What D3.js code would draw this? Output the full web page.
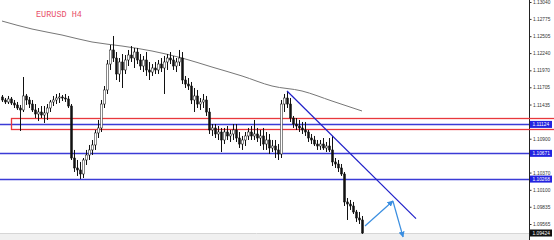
<!DOCTYPE html>
<html>
<head>
<meta charset="utf-8">
<script src="https://cdn.jsdelivr.net/npm/d3@7"></script>
<style>
  body { margin: 0; background: #fff; }
  svg { display: block; }
</style>
</head>
<body>
<div id="main"></div>
<script>
// ---- data ----
var title = "EURUSD H4";

// candles, one row per bar: [open, high, low, close]
var candles = [
  [1.11553,1.11584,1.11475,1.11506],[1.11506,1.11537,1.11443,1.11475],[1.11475,1.11569,1.11443,1.11522],
  [1.11522,1.11553,1.11428,1.11459],[1.11459,1.11506,1.11381,1.11428],[1.11428,1.11475,1.11350,1.11381],
  [1.11381,1.11428,1.11021,1.11350],[1.11350,1.11866,1.11318,1.11569],[1.11569,1.11600,1.11428,1.11506],
  [1.11506,1.11553,1.11381,1.11443],[1.11443,1.11506,1.11318,1.11350],[1.11350,1.11443,1.11224,1.11287],
  [1.11287,1.11381,1.11177,1.11318],[1.11318,1.11412,1.11224,1.11271],[1.11271,1.11412,1.11146,1.11303],
  [1.11303,1.11443,1.11193,1.11381],[1.11381,1.11506,1.11318,1.11475],[1.11475,1.11569,1.11412,1.11506],
  [1.11506,1.11600,1.11443,1.11537],[1.11537,1.11616,1.11459,1.11553],[1.11553,1.11584,1.11490,1.11537],
  [1.11537,1.11600,1.11475,1.11522],[1.11522,1.11569,1.11381,1.11412],[1.11412,1.11443,1.10567,1.10598],
  [1.10598,1.10724,1.10379,1.10442],[1.10442,1.10567,1.10317,1.10411],[1.10411,1.10536,1.10270,1.10348],
  [1.10348,1.10598,1.10285,1.10567],[1.10567,1.10724,1.10489,1.10645],[1.10645,1.10802,1.10567,1.10724],
  [1.10724,1.10880,1.10645,1.10802],[1.10802,1.11037,1.10724,1.10990],[1.10990,1.11193,1.10911,1.11068],
  [1.11068,1.11506,1.11005,1.11443],[1.11443,1.11725,1.11381,1.11663],[1.11663,1.12132,1.11600,1.12069],
  [1.12069,1.12367,1.11976,1.12289],[1.12289,1.12508,1.12101,1.12163],[1.12163,1.12257,1.11819,1.11913],
  [1.11913,1.12163,1.11788,1.12101],[1.12101,1.12226,1.11694,1.11976],[1.11976,1.12210,1.11913,1.12132],
  [1.12132,1.12289,1.12038,1.12210],[1.12210,1.12351,1.12101,1.12163],[1.12163,1.12320,1.12007,1.12257],
  [1.12257,1.12320,1.12069,1.12132],[1.12132,1.12226,1.11976,1.12038],[1.12038,1.12195,1.11944,1.12132],
  [1.12132,1.12257,1.11882,1.11976],[1.11976,1.12101,1.11819,1.11944],[1.11944,1.12069,1.11882,1.12007],
  [1.12007,1.12101,1.11913,1.11976],[1.11976,1.12132,1.11913,1.12069],[1.12069,1.12163,1.11944,1.12007],
  [1.12007,1.12195,1.11600,1.12101],[1.12101,1.12226,1.11976,1.12163],[1.12163,1.12257,1.12069,1.12132],
  [1.12132,1.12195,1.11976,1.12038],[1.12038,1.12163,1.11944,1.12101],[1.12101,1.12289,1.12038,1.12163],
  [1.12163,1.12257,1.11756,1.11819],[1.11819,1.11882,1.11694,1.11756],[1.11756,1.11850,1.11663,1.11725],
  [1.11725,1.11788,1.11443,1.11506],[1.11506,1.11694,1.11318,1.11569],[1.11569,1.11663,1.11381,1.11443],
  [1.11443,1.11537,1.11350,1.11475],[1.11475,1.11600,1.11381,1.11506],[1.11506,1.11569,1.11256,1.11318],
  [1.11318,1.11381,1.10974,1.11037],[1.11037,1.11130,1.10943,1.11068],[1.11068,1.11130,1.10911,1.10974],
  [1.10974,1.11099,1.10880,1.11005],[1.11005,1.11068,1.10692,1.10880],[1.10880,1.11068,1.10817,1.11005],
  [1.11005,1.11099,1.10880,1.10943],[1.10943,1.11037,1.10849,1.10974],[1.10974,1.11130,1.10880,1.11037],
  [1.11037,1.11130,1.10849,1.10911],[1.10911,1.11005,1.10755,1.10817],[1.10817,1.10943,1.10724,1.10880],
  [1.10880,1.11005,1.10786,1.10943],[1.10943,1.11068,1.10880,1.11005],[1.11005,1.11099,1.10880,1.10943],
  [1.10943,1.11193,1.10880,1.10974],[1.10974,1.11068,1.10849,1.10911],[1.10911,1.11037,1.10786,1.10943],
  [1.10943,1.11068,1.10724,1.10817],[1.10817,1.11005,1.10724,1.10880],[1.10880,1.10974,1.10661,1.10755],
  [1.10755,1.10880,1.10692,1.10786],[1.10786,1.10880,1.10598,1.10724],[1.10724,1.10817,1.10567,1.10661],
  [1.10661,1.11506,1.10598,1.11443],[1.11443,1.11600,1.11318,1.11537],[1.11537,1.11647,1.11381,1.11443],
  [1.11443,1.11537,1.11162,1.11224],[1.11224,1.11256,1.11068,1.11130],[1.11130,1.11224,1.11037,1.11099],
  [1.11099,1.11193,1.11005,1.11068],[1.11068,1.11162,1.10974,1.11037],[1.11037,1.11162,1.10943,1.11005],
  [1.11005,1.11037,1.10849,1.10911],[1.10911,1.10974,1.10817,1.10880],[1.10880,1.10943,1.10786,1.10817],
  [1.10817,1.10880,1.10724,1.10786],[1.10786,1.10880,1.10724,1.10817],[1.10817,1.10911,1.10724,1.10755],
  [1.10755,1.10849,1.10692,1.10786],[1.10786,1.10911,1.10692,1.10724],[1.10724,1.10943,1.10473,1.10536],
  [1.10536,1.10598,1.10442,1.10504],[1.10504,1.10567,1.10379,1.10442],[1.10442,1.10504,1.10317,1.10348],
  [1.10348,1.10379,1.09847,1.09910],[1.09910,1.09972,1.09628,1.09878],[1.09878,1.09941,1.09785,1.09847],
  [1.09847,1.09910,1.09722,1.09753],[1.09753,1.09785,1.09597,1.09659],[1.09659,1.09753,1.09565,1.09628],
  [1.09628,1.09690,1.09410,1.09424]
];

// moving average, sampled every 10 bars
var maBars = [0, 10, 20, 30, 40, 50, 60, 70, 80, 90, 100, 110, 120];
var maValues = [1.12742, 1.12617, 1.12523, 1.12414, 1.12351, 1.12273, 1.12163,
                1.12022, 1.11882, 1.11725, 1.11647, 1.11490, 1.11334];

// price scale labels
var tickValues = [1.13040, 1.12775, 1.12505, 1.12240, 1.11970, 1.11705, 1.11435,
                  1.10900, 1.10370, 1.10100, 1.09835, 1.09565];

// horizontal levels
var blueLevels = [1.11124, 1.10671, 1.10268];
var zoneTop = 1.11217, zoneBottom = 1.11052, zoneStartBar = 3;
var lastPrice = 1.09424;

// drawn objects: trend line and projected path
var trendBars = [95, 138], trendPrices = [1.11647, 1.09650];
var pathBars = [121, 130.3, 133.7], pathPrices = [1.09534, 1.09925, 1.09362];

// ---- layout ----
var width = 554, height = 240, axisX = 529;

var svg = d3.select("#main").append("svg")
    .attr("width", width)
    .attr("height", height)
    .style("font-family", "'Liberation Sans', Arial, sans-serif");

var xScale = d3.scaleLinear().domain([0, 120]).range([2, 362]);
var yScale = d3.scaleLinear().domain([1.09565, 1.13040]).range([224, 2]);

function px(v) { return Math.round(yScale(v)) + 0.5; }

var defs = svg.append("defs");
defs.append("marker")
    .attr("id", "head")
    .attr("viewBox", "0 0 10 10")
    .attr("refX", 9).attr("refY", 5)
    .attr("markerWidth", 6).attr("markerHeight", 6)
    .attr("markerUnits", "userSpaceOnUse")
    .attr("orient", "auto")
  .append("path")
    .attr("d", "M0,0 L10,5 L0,10 z")
    .attr("fill", "#3a8ee0");

// bottom strip
svg.append("rect")
    .attr("x", 0).attr("y", 234)
    .attr("width", width).attr("height", 6)
    .attr("fill", "#f0f0f0");
svg.append("line")
    .attr("x1", 0).attr("x2", axisX)
    .attr("y1", 233.5).attr("y2", 233.5)
    .attr("stroke", "#d6d6d6");

// moving average
var maLine = d3.line()
    .x(function(d, i) { return xScale(maBars[i]); })
    .y(function(d) { return yScale(d); })
    .curve(d3.curveMonotoneX);
svg.append("path")
    .datum(maValues)
    .attr("d", maLine)
    .attr("fill", "none")
    .attr("stroke", "#777")
    .attr("stroke-width", 1);

// blue support / resistance lines
svg.selectAll(".level")
    .data(blueLevels)
    .enter().append("line")
    .attr("class", "level")
    .attr("x1", 0).attr("x2", axisX)
    .attr("y1", px).attr("y2", px)
    .attr("stroke", "#3b3bd6")
    .attr("stroke-width", 1.3);

// red zone
svg.append("rect")
    .attr("x", Math.round(xScale(zoneStartBar)) + 0.5)
    .attr("y", px(zoneTop))
    .attr("width", width - xScale(zoneStartBar))
    .attr("height", px(zoneBottom) - px(zoneTop))
    .attr("fill", "none")
    .attr("stroke", "#e8383c")
    .attr("stroke-width", 1.3);

// candles
var bars = svg.selectAll(".bar")
    .data(candles)
    .enter().append("g")
    .attr("class", "bar")
    .attr("transform", function(d, i) { return "translate(" + Math.round(xScale(i)) + ",0)"; });

bars.append("line")
    .attr("x1", 0.5).attr("x2", 0.5)
    .attr("y1", function(d) { return yScale(d[1]); })
    .attr("y2", function(d) { return yScale(d[2]); })
    .attr("stroke", "#111")
    .attr("stroke-width", 1);

bars.append("rect")
    .attr("x", -0.5)
    .attr("width", 2)
    .attr("y", function(d) { return yScale(Math.max(d[0], d[3])); })
    .attr("height", function(d) { return Math.max(1, Math.abs(yScale(d[0]) - yScale(d[3]))); })
    .attr("fill", function(d) { return d[3] >= d[0] ? "#fff" : "#111"; })
    .attr("stroke", "#111")
    .attr("stroke-width", 0.5);

// trend line
svg.append("line")
    .attr("x1", xScale(trendBars[0])).attr("y1", yScale(trendPrices[0]))
    .attr("x2", xScale(trendBars[1])).attr("y2", yScale(trendPrices[1]))
    .attr("stroke", "#1f1fc8")
    .attr("stroke-width", 1.2);

// projected path, one arrow per leg
for (var k = 0; k < pathBars.length - 1; k++) {
  svg.append("line")
      .attr("x1", xScale(pathBars[k])).attr("y1", yScale(pathPrices[k]))
      .attr("x2", xScale(pathBars[k + 1])).attr("y2", yScale(pathPrices[k + 1]))
      .attr("stroke", "#3a8ee0")
      .attr("stroke-width", 1.2)
      .attr("marker-end", "url(#head)");
}

// title
svg.append("text")
    .attr("x", 36).attr("y", 17)
    .attr("fill", "#e8506a")
    .style("font-family", "'Liberation Mono', 'DejaVu Sans Mono', monospace")
    .style("font-size", "8.5px")
    .text(title);

// price axis
svg.append("rect")
    .attr("x", axisX).attr("y", 0)
    .attr("width", width - axisX).attr("height", height)
    .attr("fill", "#fff");

var yAxis = d3.axisRight(yScale)
    .tickValues(tickValues)
    .tickFormat(d3.format(".5f"))
    .tickSize(2)
    .tickPadding(1.5);

var axisG = svg.append("g")
    .attr("transform", "translate(" + (axisX + 0.5) + ",0)")
    .call(yAxis);
axisG.select(".domain").remove();
axisG.selectAll("text").style("font-size", "4.8px").attr("fill", "#333");
axisG.selectAll("line").attr("stroke", "#333");

svg.append("line")
    .attr("x1", axisX + 0.5).attr("x2", axisX + 0.5)
    .attr("y1", 0).attr("y2", height)
    .attr("stroke", "#222");

// red zone lines carry on past the axis
[zoneTop, zoneBottom].forEach(function(v) {
  svg.append("line")
      .attr("x1", axisX).attr("x2", width)
      .attr("y1", px(v)).attr("y2", px(v))
      .attr("stroke", "#e8383c")
      .attr("stroke-width", 1.3);
});

// boxed level labels
var boxes = blueLevels.map(function(v) { return {v: v, c: "#2323e0"}; })
    .concat([{v: lastPrice, c: "#111"}]);

var tags = svg.selectAll(".tag")
    .data(boxes)
    .enter().append("g")
    .attr("class", "tag")
    .attr("transform", function(d) { return "translate(" + (axisX + 1) + "," + yScale(d.v) + ")"; });

tags.append("rect")
    .attr("x", 0).attr("y", -3.5)
    .attr("width", 22).attr("height", 7)
    .attr("fill", function(d) { return d.c; });

tags.append("text")
    .attr("x", 2.5).attr("y", 0)
    .attr("dy", "0.35em")
    .attr("fill", "#fff")
    .style("font-size", "4.8px")
    .text(function(d) { return d3.format(".5f")(d.v); });
</script>
</body>
</html>
